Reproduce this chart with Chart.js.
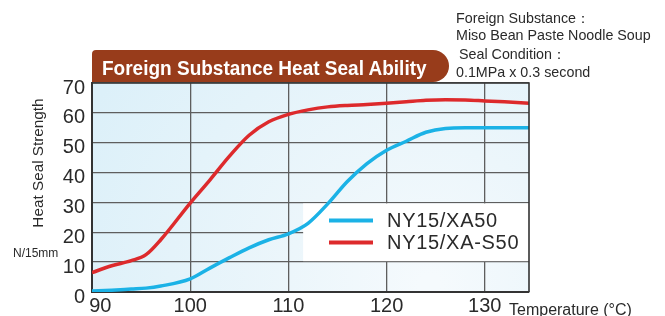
<!DOCTYPE html>
<html><head><meta charset="utf-8">
<script src="https://cdn.jsdelivr.net/npm/chart.js@4/dist/chart.umd.min.js"></script>
<style>
html,body{margin:0;padding:0;background:#fff;}
#wrap{position:relative;width:665px;height:316px;overflow:hidden;font-family:"Liberation Sans",Arial,sans-serif;color:#2a2a2a;}
#c{position:absolute;left:0;top:0;}
.t{position:absolute;white-space:nowrap;line-height:1;}
#banner{position:absolute;left:92px;top:50px;width:357px;height:32px;background:#983c1b;border-radius:4px 16px 16px 0;}
#btitle{position:absolute;left:102px;top:57px;font-weight:bold;font-size:21px;color:#fff;transform-origin:0 0;transform:scaleX(0.905);}
#ytitle{position:absolute;left:38px;top:163px;font-size:15.3px;transform:translate(-50%,-50%) rotate(-90deg);}
</style></head><body>
<div id="wrap">
<canvas id="c" width="665" height="316"></canvas>
<div id="banner"></div>
<div id="btitle" class="t">Foreign Substance Heat Seal Ability</div>
<div class="t" style="left:456px;top:11px;font-size:14.3px;">Foreign Substance：</div>
<div class="t" style="left:456px;top:28px;font-size:14.3px;">Miso Bean Paste Noodle Soup</div>
<div class="t" style="left:459px;top:47px;font-size:14.3px;">Seal Condition：</div>
<div class="t" style="left:456px;top:65px;font-size:14.3px;">0.1MPa x 0.3 second</div>
<div id="ytitle" class="t">Heat Seal Strength</div>
<div class="t" style="left:13px;top:247px;font-size:12px;">N/15mm</div>
<div class="t" style="left:509px;top:302px;font-size:16px;">Temperature (°C)</div>
</div>
<script>
// ---- data ----
const temperatures = [90, 92, 94, 95.5, 97, 100, 102, 104, 106, 108, 110, 112, 114, 116, 118, 120, 122, 124, 126, 128, 130, 132, 134.5];
const xa50   = [0.3, 0.6, 1.0, 1.3, 2.0, 4.4, 8.0, 11.5, 14.8, 17.5, 19.5, 23.0, 29.5, 37.0, 43.0, 47.5, 50.5, 53.5, 54.8, 55.0, 55.0, 55.0, 55.0];
const xaS50  = [6.5, 8.8, 10.5, 12.5, 17.5, 29.8, 37.5, 45.5, 52.5, 57.0, 59.5, 61.0, 62.0, 62.5, 62.8, 63.2, 63.7, 64.2, 64.4, 64.3, 64.0, 63.7, 63.2];
const seriesNames = ['NY15/XA50', 'NY15/XA-S50'];
const xTicks = [90, 100, 110, 120, 130];
const yTicks = [0, 10, 20, 30, 40, 50, 60, 70];

const BLUE = '#1bb2e6', RED = '#dd2a2c', TXT = '#2a2a2a';

const bgPlugin = {
  id: 'bg',
  beforeDraw(chart) {
    const {ctx, chartArea: a} = chart;
    const g = ctx.createRadialGradient(430, 285, 10, 430, 285, 380);
    g.addColorStop(0, '#f5fafd');
    g.addColorStop(0.35, '#ecf6fb');
    g.addColorStop(1, '#dcf0f9');
    ctx.save(); ctx.fillStyle = g;
    ctx.fillRect(a.left, a.top, a.right - a.left, a.bottom - a.top);
    ctx.restore();
  }
};

const legendPlugin = {
  id: 'legendBox',
  beforeDatasetsDraw(chart) {
    const {ctx, chartArea: a, scales: {x, y}} = chart;
    const top = y.getPixelForValue(30), bot = y.getPixelForValue(10);
    const left = x.getPixelForValue(111.5);
    ctx.save();
    ctx.fillStyle = '#ffffff';
    ctx.fillRect(left, top + 1, a.right - left, bot - top - 2);
    chart.data.datasets.forEach((ds, i) => {
      const cy = top + 18 + i * 22;
      ctx.strokeStyle = ds.borderColor; ctx.lineWidth = 4;
      ctx.beginPath(); ctx.moveTo(329, cy); ctx.lineTo(373, cy); ctx.stroke();
      ctx.fillStyle = TXT; ctx.font = '20px "Liberation Sans", Arial, sans-serif';
      ctx.letterSpacing = '0.7px';
      ctx.textBaseline = 'middle'; ctx.textAlign = 'left';
      ctx.fillText(ds.label, 387, cy + 1);
    });
    ctx.restore();
  }
};

const framePlugin = {
  id: 'frame',
  afterDraw(chart) {
    const {ctx, chartArea: a} = chart;
    ctx.save(); ctx.strokeStyle = '#333'; ctx.lineWidth = 1.6;
    ctx.beginPath();
    ctx.moveTo(a.left, a.top); ctx.lineTo(a.right, a.top); ctx.lineTo(a.right, a.bottom);
    ctx.stroke(); ctx.restore();
  }
};

new Chart(document.getElementById('c'), {
  type: 'line',
  data: {
    datasets: [
      { label: seriesNames[0], data: temperatures.map((t, i) => ({x: t, y: xa50[i]})), borderColor: BLUE, borderWidth: 3.5, pointRadius: 0, cubicInterpolationMode: 'monotone', fill: false },
      { label: seriesNames[1], data: temperatures.map((t, i) => ({x: t, y: xaS50[i]})), borderColor: RED, borderWidth: 3.5, pointRadius: 0, cubicInterpolationMode: 'monotone', fill: false }
    ]
  },
  options: {
    responsive: false, animation: false, devicePixelRatio: 1,
    layout: { padding: { top: 83, right: 136, bottom: 0, left: 0 } },
    plugins: { legend: { display: false }, tooltip: { enabled: false }, title: { display: false } },
    scales: {
      x: {
        type: 'linear', min: 90, max: 134.5,
        afterBuildTicks: s => { s.ticks = xTicks.map(v => ({value: v})); },
        afterFit: s => { s.height = 24; },
        ticks: { font: { size: 20, family: '"Liberation Sans", Arial, sans-serif' }, color: TXT, padding: 2, maxRotation: 0, autoSkip: false,
                 callback: v => v === xTicks[0] ? '   ' + v : String(v) },
        grid: { color: '#5e5e5e', lineWidth: 1.3, drawTicks: false },
        border: { display: true, color: '#333', width: 2 }
      },
      y: {
        min: 0, max: 70,
        afterBuildTicks: s => { s.ticks = yTicks.map(v => ({value: v})); },
        afterFit: s => { s.width = 92; },
        ticks: { font: { size: 20, family: '"Liberation Sans", Arial, sans-serif' }, color: TXT, padding: 7, labelOffset: 5 },
        grid: { color: '#5e5e5e', lineWidth: 1.3, drawTicks: false },
        border: { display: true, color: '#333', width: 2 }
      }
    }
  },
  plugins: [bgPlugin, legendPlugin, framePlugin]
});
</script>
</body></html>
